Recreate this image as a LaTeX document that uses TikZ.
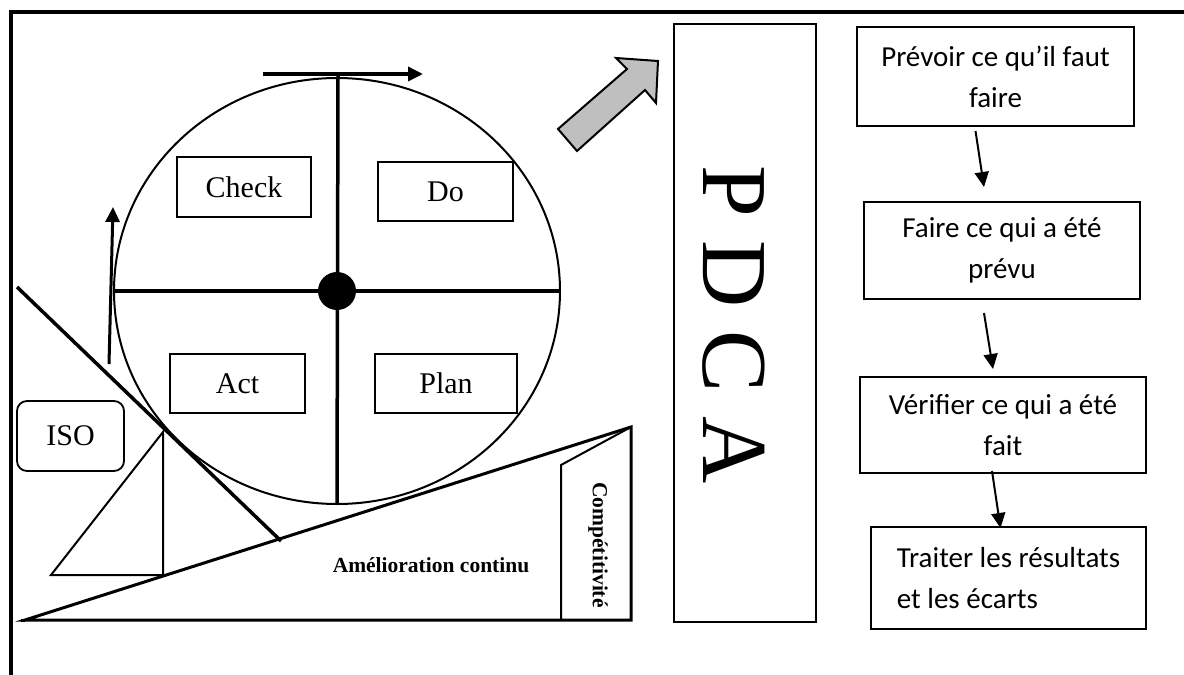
\documentclass[tikz,border=0pt]{standalone}
\usepackage{fontspec}
\setmainfont{Liberation Serif}
\newfontfamily\calibri{Carlito}
\usetikzlibrary{
  arrows.meta,
  shapes.misc,
  positioning
}

\begin{document}
\begin{tikzpicture}[
      x=1pt, y=-1pt,
      quadrant/.style={
         rectangle,
         draw=black,
         line width=1.8pt,
         inner sep=0pt,
         font=\fontsize{30}{34}\selectfont
      },
      stage/.style={
         rectangle,
         draw=black,
         line width=2pt,
         inner sep=0pt,
         align=center,
         font=\calibri\fontsize{29}{41}\selectfont
      },
      bold label/.style={
         font=\bfseries\fontsize{21.5}{25}\selectfont
      },
      thin line/.style={line width=2pt},
      thick line/.style={line width=3.5pt},
      tip/.style={-{Triangle[length=15pt,width=14pt]}},
      flow/.style={tip,line width=2pt}
    ]
    \useasboundingbox (0,0) rectangle (1184,675);
    % frame
    \draw[line width=4pt] (1184,12) -- (11,12) -- (11,675);

    % wheel
    \draw[thin line] (337,291) ellipse [x radius=223, y radius=213];
    \draw[thick line] (338,76) -- (337,504);
    \draw[thick line] (115,291) -- (559,291);
    \fill (337,291) circle [radius=19];
    \draw[thick line,tip] (263,74) -- (423,74);
    \draw[line width=3pt,tip] (109,364) -- (113,207);

    \node (check) [quadrant, minimum width=134, minimum height=60] at (244,187) {Check};
    \node (do)    [quadrant, minimum width=135, minimum height=59] at (445.5,191.5) {Do};
    \node (act)   [quadrant, minimum width=135, minimum height=59] at (237.5,383.5) {Act};
    \node (plan)  [quadrant, minimum width=142, minimum height=59] at (446,383.5) {Plan};
    \node (iso)   [quadrant, rounded corners=10pt, minimum width=107, minimum height=70] at (70.5,436) {ISO};

    % slope
    \draw[line width=3.5pt] (17,287) -- (281,541);
    \draw[line width=3pt, line join=miter] (25,620) -- (631,427) -- (631,620) -- cycle;
    \draw[line width=3pt] (21,620) -- (25,620);
    \draw[thin line] (51,575) -- (163,432) -- (163,575) -- cycle;
    \draw[thin line] (561,620) -- (561,465) -- (631,427);
    \node (amelioration) [bold label] at (431,565) {Amélioration continu};
    \node (competitivite) [bold label, rotate=-90] at (598,545) {Compétitivité};

    % big arrow
    \draw[thin line, fill=black!25, line join=miter]
       (558,129) -- (627,69) -- (616,58) -- (658,61) -- (656,103) -- (645,90) -- (577,151) -- cycle;

    % PDCA
    \node (pdca) [rectangle, draw, line width=2pt, minimum width=142, minimum height=598] at (745,323) {};
    \node (pdcatxt) [rotate=-90, font=\fontsize{93}{100}\selectfont] at (733.5,324.5) {P D C A};

    % steps
    \node (prevoir)  [stage, minimum width=277, minimum height=99]  at (995.5,76.5) {Prévoir ce qu’il faut\\faire};
    \node (faire)    [stage, minimum width=276, minimum height=97]  at (1002,250.5) {Faire ce qui a été\\prévu};
    \node (verifier) [stage, minimum width=286, minimum height=96]  at (1003,425)   {Vérifier ce qui a été\\fait};
    \node (traiter)  [stage, align=left, minimum width=275, minimum height=102] at (1008.5,578) {Traiter les résultats\\et les écarts};

    \draw[flow] ([xshift=-20pt,yshift=-4pt]prevoir.south) -- ([xshift=-18pt,yshift=14pt]faire.north);
    \draw[flow] ([xshift=-18pt,yshift=-13pt]faire.south) -- ([xshift=-10pt,yshift=7pt]verifier.north);
    \draw[flow] ([xshift=-11pt,yshift=3pt]verifier.south) -- ([xshift=-8pt,yshift=-2pt]traiter.north);
\end{tikzpicture}
\end{document}
